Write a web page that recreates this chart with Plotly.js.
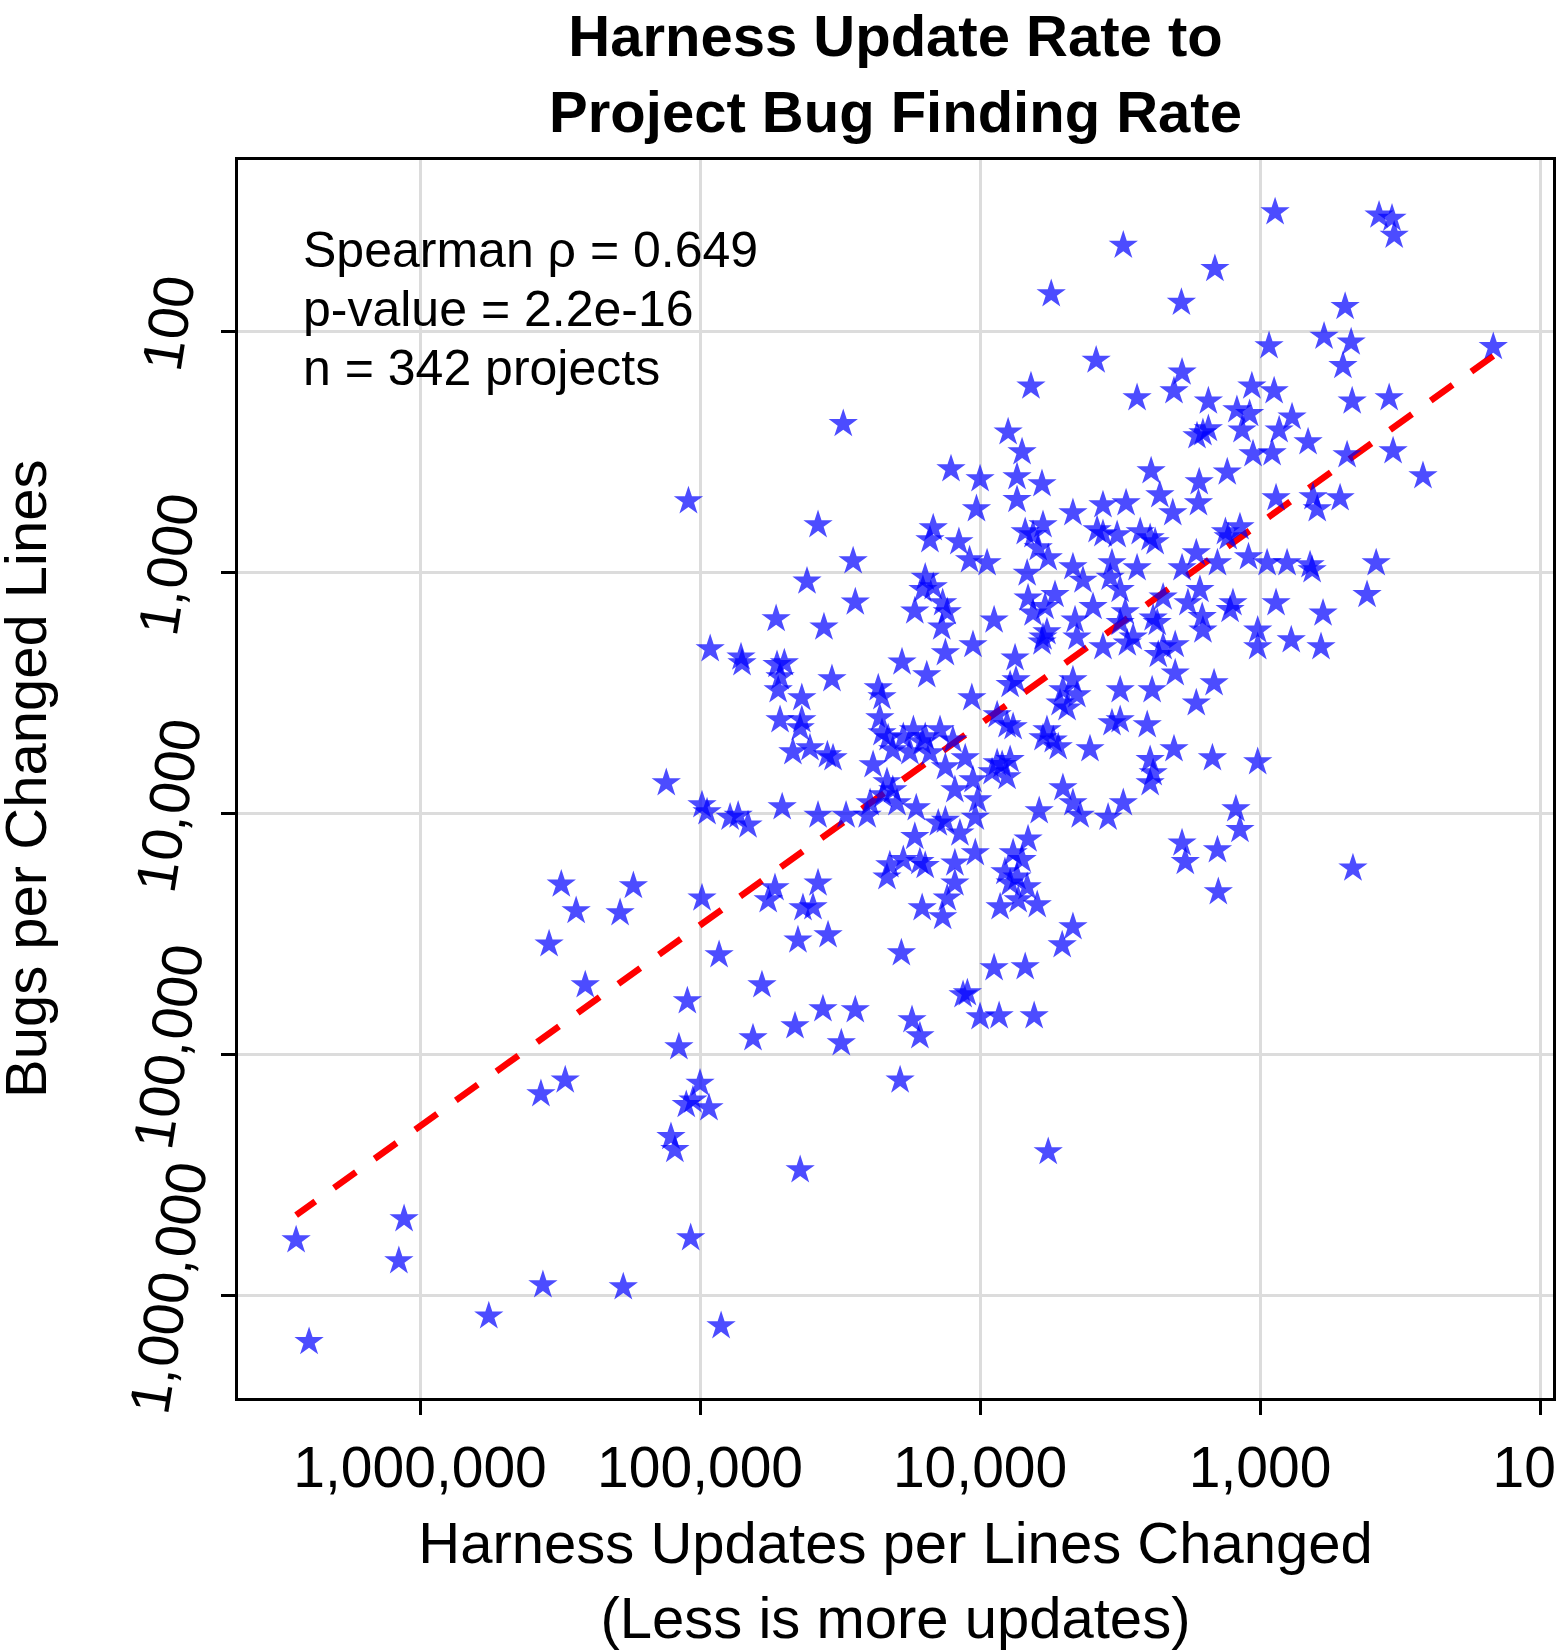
<!DOCTYPE html>
<html>
<head>
<meta charset="utf-8">
<script src="https://cdn.plot.ly/plotly-3.0.1.min.js"></script>
<style>
  html, body { margin: 0; padding: 0; background: #ffffff; }
  #chart { width: 1557px; height: 1650px; }
</style>
</head>
<body>
<div id="chart"></div>
<script>
// Lines changed per harness update (x) and lines changed per bug found (y), one entry per project
const linesPerHarnessUpdate = [
  313000, 173000, 277000, 193000, 346000, 257000, 303000, 370000, 1140000, 2770000,
  1190000, 364000, 188000, 568000, 2490000, 30800, 3080, 5570, 1910, 3850,
  6580, 2750, 1900, 2030, 7940, 7080, 1680, 1600, 1530, 884,
  376, 338, 332, 1450, 497, 591, 473, 147, 929, 506,
  1070, 891, 1530, 469, 346, 1210, 1090, 769, 1160, 855,
  674, 1060, 906, 489, 335, 262, 1310, 877, 647, 625,
  518, 1330, 1180, 1300, 1420, 1100, 944, 801, 663, 652,
  385, 415, 877, 1250, 1280, 596, 1020, 1020, 774, 606,
  1460, 12700, 10000, 7380, 6010, 2450, 1650, 10300, 7380, 4660,
  3640, 3010, 2280, 2050, 1660, 14700, 15100, 11900, 6900, 6470,
  5960, 6200, 5710, 3820, 3640, 3240, 2680, 2470, 2370, 1690,
  10900, 9440, 6790, 4660, 4290, 3380, 3430, 2750, 1900, 15700,
  14700, 16000, 13600, 13100, 6740, 5400, 6470, 5860, 3950, 3160,
  3030, 2220, 1810, 1640, 13700, 8910, 4580, 5960, 6010, 5770,
  4510, 3640, 3160, 2840, 2980, 2410, 2330, 2220, 2010, 2310,
  1600, 1610, 10600, 13300, 7500, 15500, 7810, 7440, 4660, 5060,
  4510, 5180, 4890, 3160, 2430, 2010, 10700, 8690, 8010, 7620,
  5770, 5480, 5960, 3380, 3160, 2530, 1690, 13900, 15700, 4050,
  12500, 2030, 110000, 37900, 28400, 41500, 27900, 53500, 36100, 92000,
  71400, 70800, 53100, 50000, 51800, 52600, 33800, 43300, 51800, 43300,
  43900, 19000, 23100, 22400, 22800, 17100, 22400, 21300, 18800, 17300,
  16100, 46600, 40500, 35100, 33500, 24100, 21500, 20500, 17800, 132000,
  98400, 94400, 78100, 73100, 67400, 50900, 37900, 30100, 24700, 25300,
  22200, 20500, 19800, 16900, 17100, 21000, 18800, 21500, 16400, 15700,
  98400, 54000, 57100, 37900, 42900, 39500, 16100, 34900, 44700, 85500,
  19100, 60100, 111000, 36400, 27900, 17500, 45800, 15100, 13300, 11300,
  12300, 10200, 10600, 9060, 8340, 7810, 8010, 8690, 5260, 2470,
  2410, 2470, 5060, 4660, 4390, 6150, 3490, 3080, 10400, 14100,
  13300, 11800, 6740, 10400, 7620, 7080, 12300, 8150, 7380, 7810,
  6790, 12300, 13100, 8480, 7310, 6250, 13600, 1900, 1850, 4660,
  5090, 8910, 6900, 11100, 11500, 10000, 8550, 6410, 1480, 1020,
  1220, 1180, 1420, 466, 1410, 119000, 64700, 31300, 16400, 100000,
  112000, 106000, 92900, 19300, 127000, 123000, 43900, 5710, 108000, 84100
];

const linesPerBug = [
  19700, 20000, 25400, 25900, 34900, 51600, 128000, 146000, 482000, 590000,
  720000, 906000, 924000, 1220000, 1560000, 242, 44, 70, 76, 132,
  169, 189, 148, 177, 262, 317, 272, 264, 254, 32,
  33, 34, 40, 55, 79, 105, 111, 116, 115, 139,
  169, 177, 195, 195, 189, 212, 220, 227, 257, 257,
  288, 323, 320, 326, 314, 398, 384, 492, 487, 546,
  492, 680, 649, 714, 915, 864, 915, 915, 933, 978,
  915, 1240, 1340, 1340, 1430, 1480, 1740, 2040, 1910, 2040,
  2880, 373, 410, 402, 430, 380, 422, 546, 500, 567,
  526, 516, 478, 567, 516, 655, 734, 748, 680, 700,
  636, 793, 873, 667, 693, 700, 680, 720, 748, 832,
  889, 915, 1010, 951, 1080, 915, 1050, 960, 960, 1050,
  1150, 1180, 1340, 1460, 1280, 1240, 1480, 1390, 1390, 1180,
  1460, 1270, 1340, 1180, 1690, 1580, 1580, 1860, 1950, 1770,
  1860, 2040, 1620, 1860, 1970, 1550, 1620, 2040, 2000, 2200,
  1740, 1530, 2000, 2160, 2270, 2670, 2930, 2800, 2800, 3080,
  3230, 3490, 3660, 3080, 3080, 2620, 3320, 3910, 4300, 4380,
  4510, 4970, 4870, 4220, 4100, 4300, 3490, 4510, 4820, 5410,
  4970, 5410, 506, 636, 898, 1090, 1330, 1560, 1690, 2080,
  2250, 2380, 2420, 2380, 2720, 3080, 2770, 3320, 4100, 4100,
  4430, 2360, 3020, 3290, 4020, 1450, 4640, 4870, 4820, 4510,
  5060, 5570, 5360, 5730, 5900, 6300, 7410, 5460, 5570, 7480,
  9240, 9880, 10400, 10200, 11200, 9420, 10200, 10200, 9060, 10200,
  8400, 8000, 9060, 9510, 12500, 16400, 15600, 18400, 15900, 16500,
  22500, 20400, 22900, 19500, 24700, 24500, 24700, 32000, 33600, 38700,
  38000, 51600, 60100, 64900, 65500, 72000, 76300, 5620, 6430, 5900,
  8000, 8810, 7280, 6740, 6290, 6000, 7060, 6180, 5310, 6000,
  6800, 7480, 7850, 9060, 10200, 9780, 10400, 9060, 10400, 11000,
  10700, 12100, 12800, 14600, 14600, 15600, 16100, 17500, 18400, 19500,
  20200, 19500, 22500, 24500, 22900, 24000, 26900, 13300, 15900, 29600,
  35200, 43800, 43400, 55700, 56700, 70000, 69300, 69300, 5900, 6120,
  9600, 11700, 14200, 16900, 21200, 93300, 85600, 89800, 84000, 132000,
  162000, 155000, 167000, 128000, 220000, 249000, 302000, 254000, 578000, 1340000
];

// Axis ticks (both axes run from many lines per event to few)
const xTickVals = [1000000, 100000, 10000, 1000, 100];
const xTickText = ["1,000,000", "100,000", "10,000", "1,000", "100"];
const yTickVals = [100, 1000, 10000, 100000, 1000000];
const yTickText = ["100", "1,000", "10,000", "100,000", "1,000,000"];
const yTitle = "Bugs per Changed Lines";

// Least-squares trend in log10 space: log10(y) = fitIntercept + fitSlope * log10(x)
const fitSlope = 0.834;
const fitIntercept = 0.294;

// Correlation summary
const statLines = ["Spearman ρ = 0.649", "p-value = 2.2e-16", "n = 342 projects"];

const FONT = '"Liberation Sans", Arial, Helvetica, sans-serif';

const xMin = Math.min(...linesPerHarnessUpdate);
const xMax = Math.max(...linesPerHarnessUpdate);
const fitX = [xMin, xMax];
const fitY = fitX.map(v => Math.pow(10, fitIntercept + fitSlope * Math.log10(v)));

const points = {
  type: 'scatter',
  mode: 'markers',
  x: linesPerHarnessUpdate,
  y: linesPerBug,
  marker: {
    symbol: 'star',
    size: 22,
    color: 'rgba(0,0,255,0.7)',
    line: { width: 0 }
  },
  hoverinfo: 'x+y'
};

const trend = {
  type: 'scatter',
  mode: 'lines',
  x: fitX,
  y: fitY,
  line: { color: '#ff0000', width: 6.5, dash: '27px,23px' },
  hoverinfo: 'skip'
};

const statAnnotations = statLines.map((t, i) => ({
  text: t,
  xref: 'paper', yref: 'paper',
  x: 0.048, y: 0.927 - i * 0.0475,
  xanchor: 'left', yanchor: 'middle',
  showarrow: false,
  font: { family: FONT, size: 50, color: '#000' }
}));

// Y tick labels: slanted, set just left of the tick marks (log axis -> log10 positions)
const yLabelAnnotations = yTickVals.map((v, i) => ({
  text: yTickText[i],
  xref: 'paper', yref: 'y',
  x: -0.053, y: Math.log10(v),
  yshift: 8,
  xanchor: 'center', yanchor: 'middle',
  textangle: -81,
  showarrow: false,
  font: { family: FONT, size: 57, color: '#000' }
}));

// Vertical axis title, placed close to the left edge of the figure
const yTitleAnnotation = {
  text: yTitle,
  xref: 'paper', yref: 'paper',
  x: -0.162, y: 0.5,
  xanchor: 'center', yanchor: 'middle',
  textangle: -90,
  showarrow: false,
  font: { family: FONT, size: 58, color: '#000' }
};

const axisCommon = {
  type: 'log',
  showgrid: true,
  gridcolor: '#dcdcdc',
  gridwidth: 3,
  zeroline: false,
  showline: true,
  linecolor: '#000',
  linewidth: 3,
  mirror: true,
  ticks: 'outside',
  ticklen: 14,
  tickwidth: 3,
  tickcolor: '#000',
  ticklabeloverflow: 'allow',
  tickfont: { family: FONT, size: 57, color: '#000' }
};

const layout = {
  width: 1557,
  height: 1650,
  margin: { l: 238, r: 4, t: 160, b: 252 },
  paper_bgcolor: '#ffffff',
  plot_bgcolor: '#ffffff',
  showlegend: false,
  font: { family: FONT, color: '#000' },
  title: {
    text: '<b>Harness Update Rate to<br>Project Bug Finding Rate</b>',
    font: { family: FONT, size: 58, color: '#000' },
    xref: 'paper', x: 0.5, xanchor: 'center',
    yref: 'container', y: 0.966, yanchor: 'top'
  },
  xaxis: Object.assign({}, axisCommon, {
    range: [6.65, 1.954],
    tickvals: xTickVals,
    ticktext: xTickText,
    ticklabelstandoff: 4,
    title: {
      text: 'Harness Updates per Lines Changed<br>(Less is more updates)',
      font: { family: FONT, size: 58, color: '#000' },
      standoff: 27
    }
  }),
  yaxis: Object.assign({}, axisCommon, {
    range: [6.426, 1.289],
    tickvals: yTickVals,
    showticklabels: false
  }),
  annotations: statAnnotations.concat(yLabelAnnotations, [yTitleAnnotation])
};

Plotly.newPlot('chart', [trend, points], layout, { displayModeBar: false, staticPlot: true });
</script>
</body>
</html>
